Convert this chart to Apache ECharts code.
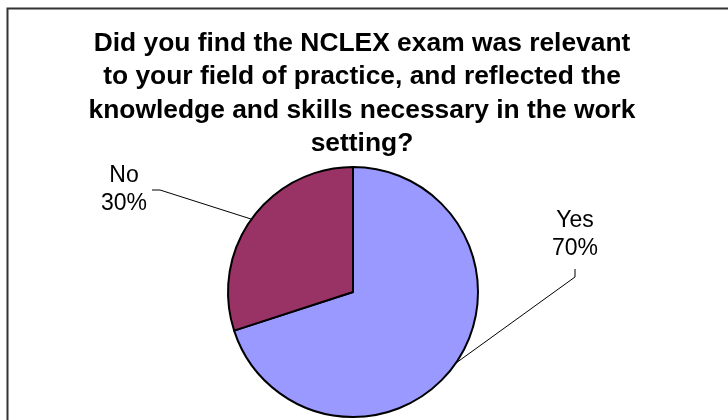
<!DOCTYPE html>
<html><head><meta charset="utf-8">
<style>html,body{margin:0;padding:0;background:#fff}#c{width:728px;height:420px}</style>
<script src="https://cdn.jsdelivr.net/npm/echarts@6/dist/echarts.min.js"></script>
</head><body><div id="c"></div>
<script>
const titleText = "Did you find the NCLEX exam was relevant\nto your field of practice, and reflected the\nknowledge and skills necessary in the work\nsetting?";
const categories = ["Yes", "No"];
const values = [70, 30];
const colors = ["#9999FF", "#993366"];

const chart = echarts.init(document.getElementById('c'));
chart.setOption({
  animation: false,
  backgroundColor: '#fff',
  title: {
    text: titleText, left: 362, top: 27, textAlign: 'center', padding: 0,
    textStyle: { fontFamily: 'Liberation Sans', fontWeight: 'bold', fontSize: 26.4, lineHeight: 33.4, color: '#000' }
  },
  graphic: [{ type: 'rect', shape: { x: 7.5, y: 8.5, width: 740, height: 440 }, style: { fill: 'none', stroke: '#333', lineWidth: 2 }, silent: true }],
  series: [{
    type: 'pie', center: [353, 292], radius: 125, startAngle: 90, clockwise: true,
    data: categories.map((c, i) => ({ name: c, value: values[i], itemStyle: { color: colors[i] } })),
    itemStyle: { borderColor: '#000', borderWidth: 2 },
    label: { show: true, formatter: '{b}\n{d}%', fontFamily: 'Liberation Sans', fontSize: 23, lineHeight: 28, color: '#000', align: 'center' },
    labelLine: { show: true, lineStyle: { color: '#000', width: 1 } },
    labelLayout: function (p) {
      if (p.dataIndex === 0) {
        return { x: 575, y: 235, align: 'center', verticalAlign: 'middle', labelLinePoints: [[456, 363], [575, 277], [575, 269]] };
      }
      return { x: 124, y: 190, align: 'center', verticalAlign: 'middle', labelLinePoints: [[251, 219], [160, 190], [152, 190]] };
    }
  }]
});
</script></body></html>
